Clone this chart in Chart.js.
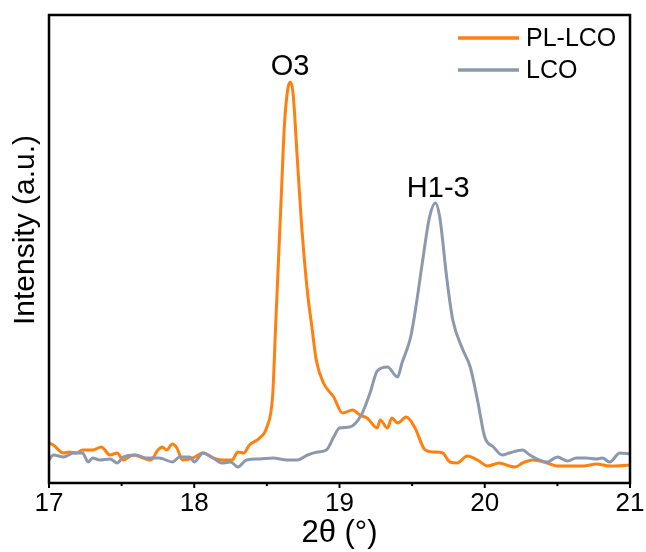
<!DOCTYPE html>
<html>
<head>
<meta charset="utf-8">
<script src="https://cdn.jsdelivr.net/npm/chart.js@4"></script>
<style>
  html, body { margin: 0; padding: 0; background: #fff; }
  #wrap { width: 646px; height: 552px; }
</style>
</head>
<body>
<div id="wrap"><canvas id="xrd" width="646" height="552"></canvas></div>
<script>
// 2theta positions (deg) and intensities (a.u.)
const plTheta = [17.0, 17.03, 17.1, 17.14, 17.19, 17.23, 17.3, 17.36, 17.42, 17.47, 17.51, 17.58, 17.63, 17.7, 17.75, 17.78, 17.81, 17.85, 17.88, 17.92,
  17.99, 18.06, 18.13, 18.19, 18.26, 18.3, 18.34, 18.38, 18.45, 18.5, 18.54, 18.56, 18.58, 18.6, 18.62, 18.64, 18.66, 18.68, 18.71, 18.74,
  18.78, 18.81, 18.84, 18.89, 18.96, 19.02, 19.09, 19.14, 19.19, 19.26, 19.28, 19.33, 19.36, 19.4, 19.46, 19.52, 19.59, 19.65, 19.71, 19.76,
  19.81, 19.88, 19.95, 20.02, 20.1, 20.17, 20.21, 20.26, 20.33, 20.43, 20.5, 20.68, 20.77, 20.86, 21.0];
const plLco = [42, 40, 32, 33, 32, 35, 35, 38, 30, 32, 25, 30, 28, 25, 35, 38, 35, 41, 37, 25,
  27, 32, 27, 25, 25, 33, 32, 40, 47, 58, 90, 158, 225, 292, 358, 392, 403, 392, 325, 258,
  192, 158, 125, 102, 88, 72, 75, 70, 67, 57, 65, 57, 67, 62, 68, 57, 35, 33, 32, 23,
  22, 29, 25, 19, 22, 19, 18, 22, 25, 22, 19, 19, 21, 19, 20];

const lcoTheta = [17.0, 17.03, 17.1, 17.17, 17.23, 17.27, 17.3, 17.35, 17.42, 17.47, 17.51, 17.6, 17.67, 17.76, 17.85, 17.9, 17.97, 18.0, 18.06, 18.13,
  18.19, 18.25, 18.3, 18.36, 18.45, 18.54, 18.64, 18.71, 18.78, 18.85, 18.91, 18.96, 19.0, 19.07, 19.15, 19.21, 19.26, 19.33, 19.4, 19.43,
  19.49, 19.53, 19.57, 19.62, 19.66, 19.69, 19.74, 19.78, 19.85, 19.9, 19.95, 20.0, 20.06, 20.12, 20.17, 20.26, 20.31, 20.43, 20.5, 20.57,
  20.63, 20.7, 20.77, 20.81, 20.86, 20.93, 21.0];
const lco = [25, 30, 28, 32, 32, 23, 27, 25, 26, 22, 28, 30, 27, 27, 23, 28, 28, 23, 32, 27,
  22, 23, 18, 25, 26, 27, 25, 25, 30, 33, 35, 48, 57, 58, 70, 92, 114, 118, 108, 122,
  148, 182, 222, 268, 282, 268, 205, 165, 135, 118, 85, 48, 38, 30, 32, 35, 30, 23, 28, 24,
  27, 27, 26, 27, 23, 32, 31];

const xTicks = [17, 18, 19, 20, 21];
const seriesNames = ["PL-LCO", "LCO"];
const seriesColors = ["#FF7F0F", "#8C98AD"];
const peakLabels = [
  { text: "O3", x: 18.66, y: 410 },
  { text: "H1-3", x: 19.68, y: 288 }
];

const toPoints = (xs, ys) => xs.map((x, i) => ({ x: x, y: ys[i] }));

const FONT = "'Liberation Sans', Arial, sans-serif";

const framePlugin = {
  id: "frame",
  afterDatasetsDraw(chart) {
    const ctx = chart.ctx;
    const a = chart.chartArea;
    const xs = chart.scales.x;
    const ys = chart.scales.y;
    ctx.save();
    // box
    ctx.strokeStyle = "#000";
    ctx.lineWidth = 2.5;
    ctx.strokeRect(a.left, a.top, a.right - a.left, a.bottom - a.top);
    // ticks (major + minor), outward
    ctx.lineWidth = 2;
    for (let v = 17; v <= 21.001; v += 0.5) {
      const px = xs.getPixelForValue(v);
      const major = Math.abs(v - Math.round(v)) < 1e-6;
      ctx.beginPath();
      ctx.moveTo(px, a.bottom);
      ctx.lineTo(px, a.bottom + (major ? 5 : 3));
      ctx.stroke();
    }
    // y axis title, sits a bit above the middle in the original
    ctx.fillStyle = "#000";
    ctx.font = "30px " + FONT;
    ctx.textAlign = "center";
    ctx.textBaseline = "middle";
    ctx.save();
    ctx.translate(26, 230);
    ctx.rotate(-Math.PI / 2);
    ctx.fillText("Intensity (a.u.)", 0, 0);
    ctx.restore();
    // peak labels
    ctx.font = "29px " + FONT;
    ctx.textBaseline = "alphabetic";
    peakLabels.forEach(p => {
      ctx.fillText(p.text, xs.getPixelForValue(p.x), ys.getPixelForValue(p.y));
    });
    // legend
    ctx.font = "25px " + FONT;
    ctx.textAlign = "left";
    ctx.textBaseline = "middle";
    seriesNames.forEach((name, i) => {
      const yy = 38 + i * 32;
      ctx.strokeStyle = seriesColors[i];
      ctx.lineWidth = 3.5;
      ctx.beginPath();
      ctx.moveTo(458, yy);
      ctx.lineTo(519, yy);
      ctx.stroke();
      ctx.fillStyle = "#000";
      ctx.fillText(name, 526, yy + 1);
    });
    ctx.restore();
  }
};

new Chart(document.getElementById("xrd"), {
  type: "line",
  data: {
    datasets: [
      {
        label: seriesNames[1],
        data: toPoints(lcoTheta, lco),
        borderColor: seriesColors[1],
        borderWidth: 3,
        pointRadius: 0,
        cubicInterpolationMode: "monotone",
        fill: false
      },
      {
        label: seriesNames[0],
        data: toPoints(plTheta, plLco),
        borderColor: seriesColors[0],
        borderWidth: 3,
        pointRadius: 0,
        cubicInterpolationMode: "monotone",
        fill: false
      }
    ]
  },
  plugins: [framePlugin],
  options: {
    responsive: false,
    animation: false,
    layout: { padding: { top: 15, right: 16, left: 0, bottom: 0 } },
    plugins: {
      legend: { display: false },
      tooltip: { enabled: false }
    },
    scales: {
      x: {
        type: "linear",
        min: 17,
        max: 21,
        afterBuildTicks: (scale) => { scale.ticks = xTicks.map(v => ({ value: v })); },
        grid: { display: false, drawTicks: false },
        border: { display: false },
        ticks: {
          color: "#000",
          padding: 5,
          font: { family: FONT, size: 26 },
          maxRotation: 0
        },
        title: {
          display: true,
          text: "2θ (°)",
          color: "#000",
          font: { family: FONT, size: 31 },
          padding: { top: 0, bottom: 0 }
        },
        afterFit: (scale) => {
          scale.height = 69;
          scale.paddingLeft = 0;
          scale.paddingRight = 0;
        }
      },
      y: {
        min: 2,
        max: 470,
        grid: { display: false, drawTicks: false },
        border: { display: false },
        ticks: { display: false },
        title: { display: false },
        afterFit: (scale) => { scale.width = 49; }
      }
    }
  }
});
</script>
</body>
</html>
